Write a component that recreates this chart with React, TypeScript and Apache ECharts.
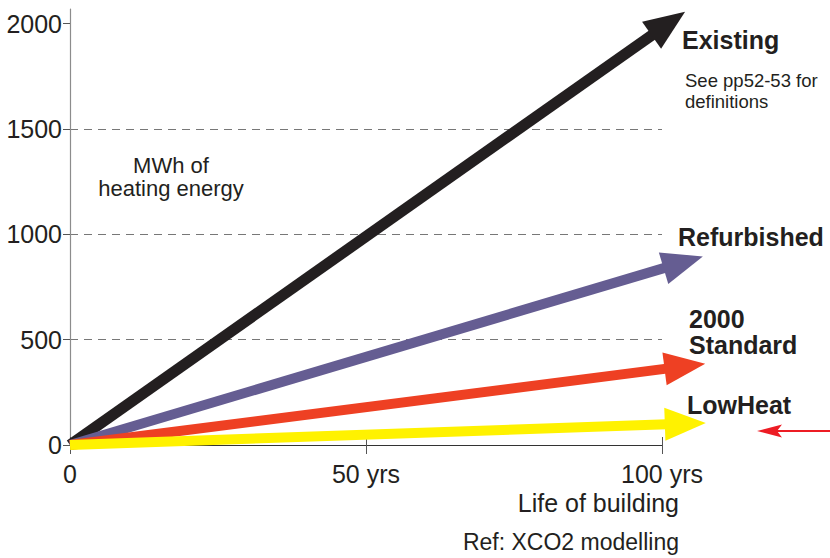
import React, { useEffect, useRef } from "react";
import * as echarts from "echarts";

// ---- data ----
const yTickValues = [0, 500, 1000, 1500, 2000];
const xTickValues = [0, 50, 100];
const xTickLabels = ["0", "50 yrs", "100 yrs"];
const arrowNames = ["Existing", "Refurbished", "2000 Standard", "LowHeat"];
// arrow tips (years, MWh)
const arrowTipYears = [103.9, 106.9, 107.3, 107.4];
const arrowTipMWh = [2057, 895, 386, 105];

// ---- styles ----
const FONT = "'Liberation Sans', Arial, Helvetica, sans-serif";
const INK = "#231f20";
const arrowColors = ["#231f20", "#655d92", "#ee4023", "#fff200"];
const shaftWidths = [11, 10, 10, 10];
const HEAD_LEN = 41;
const HEAD_W = 33;

const makeRender = (shaftW: number, color: string) => (params: any, api: any) => {
  const o = api.coord([0, 0]);
  const t = api.coord([api.value(0), api.value(1)]);
  const dx = t[0] - o[0];
  const dy = t[1] - o[1];
  const len = Math.hypot(dx, dy);
  const ux = dx / len;
  const uy = dy / len;
  const px = -uy;
  const py = ux;
  const bx = t[0] - ux * HEAD_LEN;
  const by = t[1] - uy * HEAD_LEN;
  const ex = bx + ux * 2;
  const ey = by + uy * 2;
  const hs = shaftW / 2;
  const hh = HEAD_W / 2;
  return {
    type: "group",
    children: [
      {
        type: "polygon",
        shape: {
          points: [
            [o[0] + px * hs, o[1] + py * hs],
            [ex + px * hs, ey + py * hs],
            [ex - px * hs, ey - py * hs],
            [o[0] - px * hs, o[1] - py * hs],
          ],
        },
        style: { fill: color },
      },
      {
        type: "polygon",
        shape: {
          points: [
            [t[0], t[1]],
            [bx + px * hh, by + py * hh],
            [bx - px * hh, by - py * hh],
          ],
        },
        style: { fill: color },
      },
    ],
  };
};

const txt = (
  text: string,
  x: number,
  y: number,
  size: number,
  opts: { bold?: boolean; align?: string } = {}
) => ({
  type: "text",
  x,
  y,
  silent: true,
  style: {
    text,
    fill: INK,
    font: `${opts.bold ? "bold " : ""}${size}px ${FONT}`,
    textAlign: opts.align || "left",
    textVerticalAlign: "middle",
  },
});

export default function App() {
  const ref = useRef<HTMLDivElement>(null);

  useEffect(() => {
    if (!ref.current) return;
    const chart = echarts.init(ref.current, undefined, { renderer: "svg" });

    const xBase = {
      type: "value",
      min: 0,
      max: 100,
      interval: 50,
      position: "bottom",
    };

    chart.setOption({
      animation: false,
      backgroundColor: "#ffffff",
      grid: { left: 70, right: 168, top: 9, bottom: 113, containLabel: false },
      xAxis: [
        {
          ...xBase,
          axisLine: { show: true, lineStyle: { color: "#333", width: 1.2 } },
          axisTick: { show: true, inside: false, length: 9, lineStyle: { color: "#555" } },
          axisLabel: {
            margin: 16,
            fontSize: 25,
            fontFamily: FONT,
            color: INK,
            formatter: (v: number) => {
              const i = xTickValues.indexOf(v);
              return i >= 0 ? xTickLabels[i] : "";
            },
          },
          splitLine: { show: false },
        },
        {
          ...xBase,
          axisLine: { show: false },
          axisTick: { show: true, inside: true, length: 8, lineStyle: { color: "#555" } },
          axisLabel: { show: false },
          splitLine: { show: false },
        },
      ],
      yAxis: {
        type: "value",
        min: 0,
        max: 2070,
        interval: 500,
        axisLine: { show: true, lineStyle: { color: "#8c8c8c", width: 1.2 } },
        axisTick: {
          show: true,
          length: 7,
          lineStyle: { color: "#555" },
          customValues: yTickValues,
        },
        axisLabel: {
          margin: 8,
          fontSize: 25,
          fontFamily: FONT,
          color: INK,
          customValues: yTickValues,
          formatter: (v: number) => (yTickValues.indexOf(v) >= 0 ? String(v) : ""),
        },
        splitLine: {
          show: true,
          showMinLine: false,
          showMaxLine: false,
          lineStyle: { color: "#777", type: [8, 6], width: 1 },
        },
      },
      series: arrowNames.map((name, i) => ({
        type: "custom",
        name,
        clip: false,
        z: 2 + i,
        renderItem: makeRender(shaftWidths[i], arrowColors[i]),
        data: [[arrowTipYears[i], arrowTipMWh[i]]],
      })),
      graphic: [
        txt("Existing", 682, 39.5, 25, { bold: true }),
        txt("See pp52-53 for", 685, 80.5, 18.5),
        txt("definitions", 685, 101.5, 18.5),
        txt("MWh of", 171, 165, 22, { align: "center" }),
        txt("heating energy", 171, 188.5, 22, { align: "center" }),
        txt("Refurbished", 678, 236.5, 25, { bold: true }),
        txt("2000", 689, 318.5, 25, { bold: true }),
        txt("Standard", 689, 344.5, 25, { bold: true }),
        txt("LowHeat", 687, 404.5, 25, { bold: true }),
        txt("Life of building", 679, 503, 25, { align: "right" }),
        txt("Ref: XCO2 modelling", 679, 542, 23, { align: "right" }),
        {
          type: "line",
          silent: true,
          shape: { x1: 830, y1: 431, x2: 772, y2: 431 },
          style: { stroke: "#ed1c24", lineWidth: 2 },
        },
        {
          type: "polygon",
          silent: true,
          shape: { points: [[757, 431], [782, 424.5], [777, 431], [782, 437.5]] },
          style: { fill: "#ed1c24" },
        },
      ],
    });

    return () => chart.dispose();
  }, []);

  return (
    <div
      ref={ref}
      style={{ position: "fixed", left: 0, top: 0, width: 830, height: 558, background: "#fff" }}
    />
  );
}
